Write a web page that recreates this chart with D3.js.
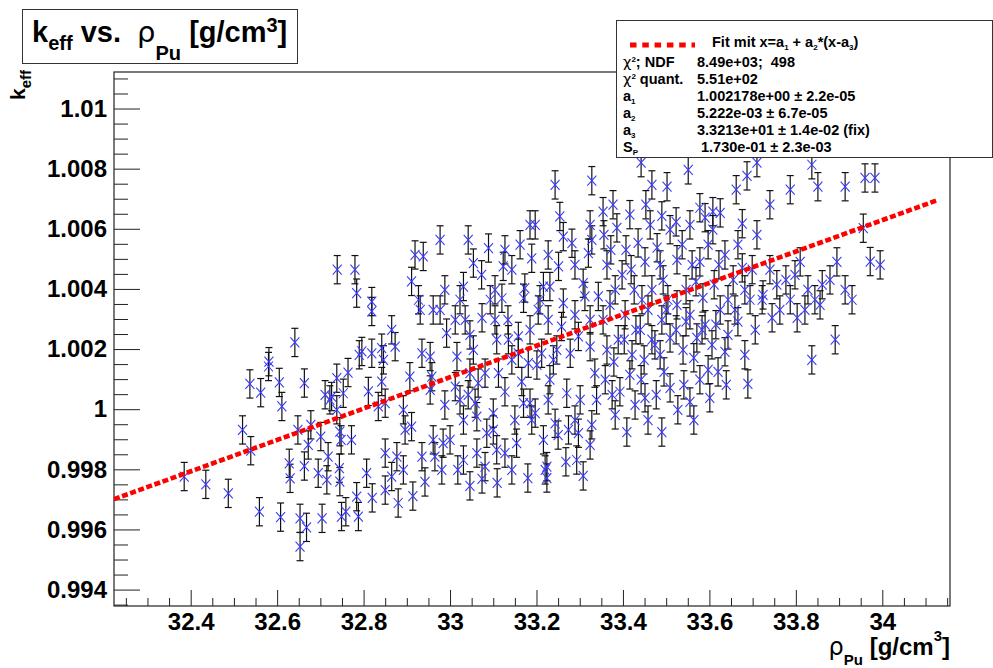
<!DOCTYPE html>
<html>
<head>
<meta charset="utf-8">
<script src="https://cdn.jsdelivr.net/npm/d3@7"></script>
<style>
  body { margin: 0; background: #fff; }
  svg { display: block; }
  text { font-family: "Liberation Sans", Arial, Helvetica, sans-serif; font-weight: bold; fill: #000; }
</style>
</head>
<body>
<svg id="chart" width="993" height="668"></svg>
<script>
// density of Pu [g/cm3]
const rhoPu = [
  32.385, 32.435, 32.487, 32.520, 32.539, 32.537, 32.562, 32.559, 32.581, 32.580,
  32.605, 32.611, 32.608, 32.641, 32.663, 32.648, 32.628, 32.630, 32.663, 32.653,
  32.653, 32.668, 32.672, 32.678, 32.701, 32.711, 32.722, 32.738, 32.753, 32.764,
  32.704, 32.695, 32.715, 32.718, 32.744, 32.745, 32.749, 32.759, 32.748, 32.772,
  32.784, 32.790, 32.788, 32.738, 32.745, 32.726,
  32.780, 32.784, 32.819, 32.819, 32.796, 32.819, 32.842, 32.846, 32.865, 32.873,
  32.811, 32.834, 32.850, 32.842, 32.807, 32.850, 32.865, 32.877, 32.892, 32.896,
  32.892, 32.911, 32.907, 32.911, 32.927, 32.931, 32.938, 32.935, 32.935, 32.954,
  32.961, 32.958, 32.961, 32.965, 32.977, 32.988, 32.992, 32.984, 33.000, 33.016,
  33.023, 33.031, 33.035, 33.023, 33.031, 33.012, 33.031, 33.054, 33.073, 33.046,
  33.054, 33.065, 33.058, 33.081, 33.062, 33.062, 33.085, 33.081, 33.089, 33.093,
  33.104, 33.104, 33.108, 33.112, 33.100, 33.100, 33.108, 33.120, 33.123, 33.143,
  33.127, 33.135, 33.143, 33.154, 33.158, 33.158, 33.166, 33.170, 33.170, 33.173,
  33.185, 33.197, 33.189, 33.181, 33.185, 33.189, 33.197, 33.201, 33.212, 33.204,
  33.208, 33.216, 33.231, 33.216, 33.224, 33.231, 33.239, 33.247, 33.243, 33.251,
  33.254, 33.262, 33.282, 33.258, 33.262, 33.270, 33.278, 33.274, 33.293, 33.297,
  33.297, 33.301, 33.308, 33.320, 33.324, 33.328, 33.312, 33.324, 33.324, 33.335,
  33.339, 33.343,
  33.960, 33.983, 33.956, 33.972, 33.995,
  32.739, 33.243, 33.328,
  32.820, 32.850, 32.880, 32.914, 32.942, 32.981, 33.018, 33.046, 33.074, 33.109,
  33.143, 33.180, 33.220, 33.224, 33.268, 33.308,
  33.442, 33.467, 33.502, 33.551, 33.578, 33.608, 33.625, 33.662, 33.687, 33.710,
  33.740, 33.787, 33.837, 33.851, 33.914,
  33.356, 33.372, 33.386, 33.407, 33.419, 33.435, 33.451, 33.463, 33.479, 33.493,
  33.509, 33.525, 33.537, 33.555, 33.569, 33.578, 33.597, 33.608, 33.622, 33.636,
  33.655, 33.666, 33.682, 33.699, 33.710, 33.724, 33.740, 33.756, 33.777, 33.798,
  33.810, 33.828, 33.844, 33.861, 33.879, 33.895, 33.914, 33.930,
  33.354, 33.370, 33.389, 33.405, 33.421, 33.440, 33.458, 33.474, 33.490, 33.509,
  33.525, 33.539, 33.555, 33.571, 33.590, 33.606, 33.625, 33.643, 33.666, 33.682,
  33.706, 33.722, 33.745, 33.763, 33.787, 33.803, 33.821, 33.837, 33.856, 33.891,
  33.359, 33.382, 33.393, 33.409, 33.428, 33.442, 33.458, 33.477, 33.490, 33.509,
  33.527, 33.555, 33.578, 33.597, 33.620, 33.689,
  33.354, 33.377, 33.416, 33.453, 33.490, 33.523, 33.590, 33.676, 33.363, 33.382,
  33.398, 33.426, 33.444, 33.467, 33.486, 33.504, 33.546, 33.560, 33.585, 33.611,
  33.643, 33.676, 33.694, 33.363, 33.379, 33.403, 33.430, 33.449, 33.467, 33.486,
  33.500, 33.523, 33.546, 33.564, 33.583, 33.615, 33.636, 33.659, 33.375, 33.416,
  33.451, 33.495, 33.541, 33.564, 33.601, 33.639,
  32.919, 32.977, 33.042, 33.127, 33.162, 33.227, 33.289, 33.012, 33.046, 33.074,
  33.134, 33.185, 33.227, 33.289, 32.954, 32.988, 33.042, 33.127, 33.150, 33.227,
  33.250, 33.289, 33.328, 33.324
];
const keff = [
  0.99776, 0.99750, 0.99720, 0.99931, 0.99862, 1.00084, 1.00055, 0.99659, 1.00158, 1.00142,
  1.00089, 1.00009, 0.99641, 1.00222, 1.00087, 0.99931, 0.99820, 0.99770, 0.99811, 0.99637,
  0.99543, 0.99607, 0.99881, 0.99948, 0.99909, 1.00048, 1.00031, 1.00103, 1.00053, 1.00122,
  0.99637, 0.99787, 0.99765, 0.99842, 0.99804, 0.99759, 0.99643, 0.99659, 0.99898, 0.99898,
  0.99709, 1.00181, 0.99643, 0.99998, 0.99925, 1.00042,
  1.00464, 1.00386, 1.00358, 1.00325, 1.00192, 1.00186, 1.00203, 1.00164, 1.00264, 1.00208,
  1.00059, 1.00009, 1.00020, 1.00092, 0.99787, 0.99854, 0.99776, 0.99842, 0.99798, 0.99931,
  0.99998, 0.99942, 1.00108, 1.00425, 1.00364, 1.00330, 1.00508, 1.00186, 0.99842, 1.00175,
  1.00330, 1.00108, 0.99898, 0.99842, 1.00330, 1.00397, 1.00253, 0.99887, 0.99898, 1.00175,
  1.00364, 1.00408, 1.00297, 1.00031, 0.99964, 1.00075, 0.99831, 1.00486, 1.00447, 1.00120,
  1.00197, 1.00087, 1.00020, 1.00120, 0.99975, 0.99854, 0.99920, 0.99809, 1.00536, 1.00364,
  1.00397, 1.00297, 1.00231, 1.00120, 0.99987, 0.99931, 0.99865, 1.00369, 1.00475, 1.00464,
  0.99854, 1.00231, 1.00164, 0.99887, 1.00242, 1.00186, 1.00092, 1.00020, 1.00369, 1.00403,
  1.00613, 1.00613, 1.00502, 1.00153, 1.00020, 0.99964, 0.99987, 1.00147, 1.00186, 1.00330,
  1.00364, 1.00408, 1.00408, 0.99898, 0.99809, 1.00098, 1.00164, 1.00197, 0.99953, 1.00475,
  1.00641, 1.00574, 1.00552, 1.00275, 1.00353, 1.00053, 1.00186, 0.99931, 0.99831, 0.99920,
  1.00242, 1.00031, 1.00419, 1.00519, 1.00613, 1.00563, 1.00375, 1.00297, 1.00208, 1.00120,
  1.00031, 1.00375,
  1.00769, 1.00769, 1.00602, 1.00491, 1.00480,
  1.00464, 1.00746, 1.00760,
  0.99705, 0.99731, 0.99688, 0.99711, 0.99758, 0.99798, 0.99798, 0.99745, 0.99768, 0.99755,
  0.99798, 0.99771, 0.99798, 0.99771, 0.99825, 0.99778,
  1.00820, 1.00746, 1.00740, 1.00796, 1.00670, 1.00657, 1.00653, 1.00730, 1.00776, 1.00820,
  1.00680, 1.00730, 1.00813, 1.00740, 1.00740,
  1.00580, 1.00530, 1.00603, 1.00530, 1.00464, 1.00553, 1.00490, 1.00613, 1.00537, 1.00430,
  1.00597, 1.00497, 1.00547, 1.00613, 1.00424, 1.00490, 1.00547, 1.00597, 1.00480, 1.00513,
  1.00430, 1.00547, 1.00397, 1.00464, 1.00580, 1.00380, 1.00464, 1.00414, 1.00430, 1.00447,
  1.00490, 1.00397, 1.00364, 1.00414, 1.00430, 1.00490, 1.00397, 1.00364,
  1.00297, 1.00347, 1.00231, 1.00314, 1.00181, 1.00264, 1.00330, 1.00214, 1.00297, 1.00237,
  1.00347, 1.00197, 1.00314, 1.00237, 1.00281, 1.00214, 1.00330, 1.00247, 1.00291, 1.00181,
  1.00264, 1.00364, 1.00304, 1.00330, 1.00364, 1.00304, 1.00330, 1.00164, 1.00347, 1.00231,
  1.00098, 0.99981, 1.00058, 0.99924, 1.00014, 1.00098, 0.99964, 1.00048, 0.99924, 1.00071,
  0.99998, 1.00024, 1.00098, 1.00131, 1.00124, 1.00084,
  1.00657, 1.00680, 1.00647, 1.00680, 1.00643, 1.00623, 1.00637, 1.00617, 1.00480, 1.00397,
  1.00447, 1.00397, 1.00364, 1.00397, 1.00480, 1.00364, 1.00397, 1.00480, 1.00370, 1.00414,
  1.00364, 1.00470, 1.00364, 1.00197, 1.00157, 1.00231, 1.00264, 1.00164, 1.00231, 1.00181,
  1.00330, 1.00264, 1.00291, 1.00171, 1.00264, 1.00281, 1.00191, 1.00330, 1.00048, 1.00114,
  1.00038, 1.00124, 1.00081, 0.99964, 1.00038, 1.00081,
  1.00513, 1.00563, 1.00563, 1.00530, 1.00547, 1.00513, 1.00480, 1.00297, 1.00247, 1.00304,
  1.00297, 1.00264, 1.00297, 1.00314, 1.00064, 1.00014, 1.00048, 1.00058, 0.99964, 1.00031,
  0.99914, 0.99964, 0.99948, 0.99881
];
const keffErr = 0.00047;

// fit x = a1 + a2*(x-a3)
const fitA1 = 1.002178, fitA2 = 5.222e-3, fitA3 = 33.213;
const fitRange = [32.2226, 34.13];

const xTicks = [32.4, 32.6, 32.8, 33, 33.2, 33.4, 33.6, 33.8, 34];
const xTickLabels = ["32.4", "32.6", "32.8", "33", "33.2", "33.4", "33.6", "33.8", "34"];
const yTicks = [0.994, 0.996, 0.998, 1.0, 1.002, 1.004, 1.006, 1.008, 1.01];
const yTickLabels = ["0.994", "0.996", "0.998", "1", "1.002", "1.004", "1.006", "1.008", "1.01"];

const legendLabels = [["\u03c7", "2", "; NDF"], ["\u03c7", "2", " quant."], ["a", "1", ""], ["a", "2", ""], ["a", "3", ""], ["S", "P", ""]];
const legendValues = ["8.49e+03;  498", "5.51e+02", "1.002178e+00 \u00b1 2.2e-05", "5.222e-03 \u00b1 6.7e-05",
  "3.3213e+01 \u00b1 1.4e-02 (fix)", " 1.730e-01 \u00b1 2.3e-03"];

const fr = {left: 114, top: 72, right: 950, bottom: 606};
const x = d3.scaleLinear().domain([32.2226, 34.1566]).range([fr.left, fr.right]);
const y = d3.scaleLinear().domain([0.993454, 1.011215]).range([fr.bottom, fr.top]);

const svg = d3.select('#chart');
const data = rhoPu.map((r, i) => ({r: r, k: keff[i]}));

svg.append('clipPath').attr('id', 'clip')
  .append('rect').attr('x', fr.left).attr('y', fr.top)
  .attr('width', fr.right - fr.left).attr('height', fr.bottom - fr.top);

// axes, ROOT style ticks pointing inwards
const xMinor = d3.range(32.25, 34.16, 0.05).filter(v => Math.abs(v * 5 - Math.round(v * 5)) > 1e-6);
const yMinor = d3.range(0.9935, 1.0112, 0.0005).filter(v => Math.abs(v * 500 - Math.round(v * 500)) > 1e-6);

function styleAxis(g) {
  g.select('.domain').remove();
  g.selectAll('line').attr('stroke', '#222');
  g.attr('font-size', 24).attr('font-family', null);
}

svg.append('g').attr('transform', `translate(0,${fr.bottom})`)
  .call(d3.axisBottom(x).tickValues(xMinor).tickSize(-8).tickFormat(''))
  .call(styleAxis);
svg.append('g').attr('transform', `translate(0,${fr.bottom})`)
  .call(d3.axisBottom(x).tickValues(xTicks).tickSize(-16).tickPadding(7).tickFormat((d, i) => xTickLabels[i]))
  .call(styleAxis);
svg.append('g').attr('transform', `translate(${fr.left},0)`)
  .call(d3.axisLeft(y).tickValues(yMinor).tickSize(-14).tickFormat(''))
  .call(styleAxis);
svg.append('g').attr('transform', `translate(${fr.left},0)`)
  .call(d3.axisLeft(y).tickValues(yTicks).tickSize(-26).tickPadding(7).tickFormat((d, i) => yTickLabels[i]))
  .call(styleAxis);

svg.append('rect').attr('x', fr.left).attr('y', fr.top)
  .attr('width', fr.right - fr.left).attr('height', fr.bottom - fr.top)
  .attr('fill', 'none').attr('stroke', '#222').attr('stroke-width', 1.2);

// points with error bars
const pts = svg.append('g').attr('clip-path', 'url(#clip)');
const pg = pts.selectAll('g.pt').data(data).join('g').attr('class', 'pt');
pg.append('line')
  .attr('x1', d => x(d.r)).attr('x2', d => x(d.r))
  .attr('y1', d => y(d.k - keffErr)).attr('y2', d => y(d.k + keffErr))
  .attr('stroke', '#111').attr('stroke-width', 1.2);
[-1, 1].forEach(s => {
  pg.append('line')
    .attr('x1', d => x(d.r) - 3.5).attr('x2', d => x(d.r) + 3.5)
    .attr('y1', d => y(d.k + s * keffErr)).attr('y2', d => y(d.k + s * keffErr))
    .attr('stroke', '#111').attr('stroke-width', 1.2);
});
pts.selectAll('path.mk').data(data).join('path').attr('class', 'mk')
  .attr('d', d => {
    const cx = x(d.r), cy = y(d.k);
    return `M${cx - 4.5},${cy - 5}L${cx + 4.5},${cy + 5}M${cx - 4.5},${cy + 5}L${cx + 4.5},${cy - 5}`;
  })
  .attr('stroke', '#3a3aff').attr('stroke-width', 1.1).attr('fill', 'none');

// fit line
const fitLine = d3.line().x(d => x(d)).y(d => y(fitA1 + fitA2 * (d - fitA3)));
svg.append('path').attr('d', fitLine(fitRange))
  .attr('stroke', '#ff0000').attr('stroke-width', 4.6).attr('fill', 'none')
  .attr('stroke-dasharray', '6,2.6');

// title box
svg.append('rect').attr('x', 22.5).attr('y', 9.5).attr('width', 275).attr('height', 54)
  .attr('fill', '#fff').attr('stroke', '#333');
const title = svg.append('text').attr('x', 32).attr('y', 42).attr('font-size', 29)
  .attr('xml:space', 'preserve').style('white-space', 'pre');
title.append('tspan').text('k');
title.append('tspan').attr('font-size', 20).attr('dy', 8).text('eff');
title.append('tspan').attr('dy', -8).text(' vs.  ');
title.append('tspan').attr('font-family', 'DejaVu Sans').attr('font-weight', 'normal').text('\u03c1');
title.append('tspan').attr('font-size', 20).attr('dy', 18).text('Pu');
title.append('tspan').attr('dy', -18).text(' [g/cm');
title.append('tspan').attr('font-size', 20).attr('dy', -10).text('3');
title.append('tspan').attr('dy', 10).text(']');

// y title
const yt = svg.append('text').attr('transform', 'translate(25,70) rotate(-90)')
  .attr('text-anchor', 'end').attr('font-size', 21);
yt.append('tspan').text('k');
yt.append('tspan').attr('font-size', 15).attr('dy', 6).text('eff');

// x title
const xt = svg.append('text').attr('x', fr.right).attr('y', 655)
  .attr('text-anchor', 'end').attr('font-size', 24);
xt.append('tspan').attr('font-family', 'DejaVu Sans').attr('font-weight', 'normal').text('\u03c1');
xt.append('tspan').attr('font-size', 15).attr('dy', 10).text('Pu');
xt.append('tspan').attr('dy', -10).text(' [g/cm');
xt.append('tspan').attr('font-size', 15).attr('dy', -14).text('3');
xt.append('tspan').attr('dy', 14).text(']');

// legend
svg.append('rect').attr('x', 616.5).attr('y', 20.5).attr('width', 376).attr('height', 137)
  .attr('fill', '#fff').attr('stroke', '#333');
svg.append('line').attr('x1', 630).attr('x2', 695).attr('y1', 45).attr('y2', 45)
  .attr('stroke', '#ff0000').attr('stroke-width', 5).attr('stroke-dasharray', '6.5,5.8');
const lt = svg.append('text').attr('x', 712).attr('y', 47).attr('font-size', 14.5);
lt.append('tspan').text('Fit mit x=a');
lt.append('tspan').attr('font-size', 8).attr('dy', 3).text('1');
lt.append('tspan').attr('dy', -3).text(' + a');
lt.append('tspan').attr('font-size', 8).attr('dy', 3).text('2');
lt.append('tspan').attr('dy', -3).text('*(x-a');
lt.append('tspan').attr('font-size', 8).attr('dy', 3).text('3');
lt.append('tspan').attr('dy', -3).text(')');

const rowY = d3.scaleLinear().domain([0, 5]).range([67, 152]);
legendLabels.forEach((lab, i) => {
  const t = svg.append('text').attr('x', 623).attr('y', rowY(i)).attr('font-size', 14.5);
  const isChi = lab[0] === '\u03c7';
  t.append('tspan').attr('font-family', isChi ? 'DejaVu Sans' : null)
    .attr('font-weight', isChi ? 'normal' : null).text(lab[0]);
  t.append('tspan').attr('font-size', 8).attr('dy', isChi ? -5 : 3).text(lab[1]);
  t.append('tspan').attr('dy', isChi ? 5 : -3).text(lab[2]);
  svg.append('text').attr('x', 697).attr('y', rowY(i)).attr('font-size', 14.5)
    .attr('xml:space', 'preserve').style('white-space', 'pre').text(legendValues[i]);
});
</script>
</body>
</html>
